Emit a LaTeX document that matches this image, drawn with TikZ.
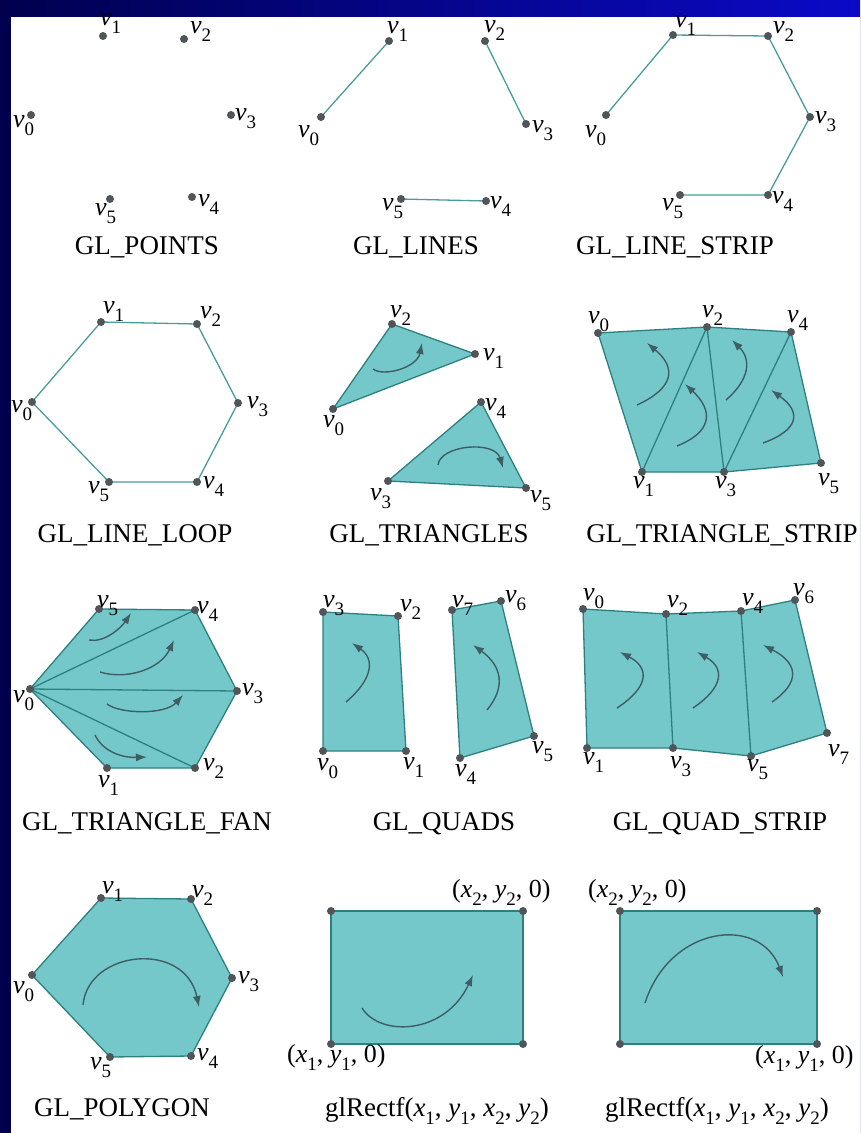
\documentclass[tikz,border=0pt]{standalone}
\usepackage{fontspec}
\setmainfont{Liberation Serif}
\usetikzlibrary{arrows.meta}
\definecolor{facec}{HTML}{74C8C9}
\definecolor{edgec}{HTML}{2E8080}
\definecolor{linec}{HTML}{4A9C9C}
\definecolor{dotc}{HTML}{505559}
\definecolor{arrc}{HTML}{3E5E64}
\definecolor{navyc}{HTML}{00004E}
\definecolor{bluec}{HTML}{0A0AC8}
\newcommand\subf{\fontsize{19}{19}\selectfont}
\newcommand\lowsub[1]{\raisebox{-8.5pt}{\subf #1}}
\newcommand\vv[1]{\textit{v}\lowsub{#1}}
\newcommand\ix[1]{\textit{x}\lowsub{#1}}
\newcommand\iy[1]{\textit{y}\lowsub{#1}}
\tikzset{
  dot/.style={circle,fill=dotc,inner sep=0pt,minimum size=8pt},
  seg/.style={draw=linec,line width=1.3pt},
  face/.style={fill=facec,draw=edgec,line width=1.3pt,line join=round},
  inner/.style={draw=edgec,line width=1.3pt},
  turn/.style={draw=arrc,line width=1.4pt,-{Latex[length=11pt,width=8pt]}},
  vlab/.style={anchor=base west,inner sep=0pt,font=\fontsize{26}{26}\selectfont},
  ttl/.style={anchor=base,inner sep=0pt,font=\fontsize{27}{27}\selectfont},
}
\begin{document}
\begin{tikzpicture}[x=1pt,y=-1pt]
\useasboundingbox (0,0) rectangle (860,1133);
\shade[left color=navyc,right color=bluec] (0,0) rectangle (860,1133);
\fill[white] (11,17) rectangle (860,1133);

% ---------- coordinates ----------
\coordinate (a0) at (31,115);  \coordinate (a1) at (103,36);  \coordinate (a2) at (184,39);
\coordinate (a3) at (231,115); \coordinate (a4) at (192,197);  \coordinate (a5) at (110,199);
\coordinate (b0) at (321,117); \coordinate (b1) at (389,41);  \coordinate (b2) at (485,41);
\coordinate (b3) at (526,124); \coordinate (b4) at (486,201);  \coordinate (b5) at (401,199);
\coordinate (c0) at (606,115); \coordinate (c1) at (673,35);  \coordinate (c2) at (768,36);
\coordinate (c3) at (810,117); \coordinate (c4) at (768,195);  \coordinate (c5) at (680,195);
\coordinate (d0) at (32,402);  \coordinate (d1) at (101,322); \coordinate (d2) at (197,324);
\coordinate (d3) at (238,403); \coordinate (d4) at (197,482);  \coordinate (d5) at (109,482);
\coordinate (e0) at (333,409); \coordinate (e1) at (475,354); \coordinate (e2) at (392,324);
\coordinate (e3) at (388,481); \coordinate (e4) at (481,402);  \coordinate (e5) at (526,488);
\coordinate (f0) at (598,333); \coordinate (f1) at (642,472); \coordinate (f2) at (707,327);
\coordinate (f3) at (724,472); \coordinate (f4) at (791,332);  \coordinate (f5) at (821,463);
\coordinate (g0) at (30,689);  \coordinate (g1) at (107,768); \coordinate (g2) at (195,768);
\coordinate (g3) at (237,691); \coordinate (g4) at (195,610);  \coordinate (g5) at (99,609);
\coordinate (h0) at (323,751); \coordinate (h1) at (406,751); \coordinate (h2) at (398,616);
\coordinate (h3) at (323,612); \coordinate (h4) at (460,758);  \coordinate (h5) at (534,736);
\coordinate (h6) at (501,601); \coordinate (h7) at (452,610);
\coordinate (i0) at (583,609); \coordinate (i1) at (587,748); \coordinate (i2) at (666,614);
\coordinate (i3) at (673,748); \coordinate (i4) at (741,611);  \coordinate (i5) at (751,756);
\coordinate (i6) at (795,600); \coordinate (i7) at (827,733);
\coordinate (j0) at (32,975);  \coordinate (j1) at (101,898); \coordinate (j2) at (191,899);
\coordinate (j3) at (232,978); \coordinate (j4) at (191,1056); \coordinate (j5) at (110,1057);
\coordinate (k0) at (331,1044); \coordinate (k1) at (523,1044); \coordinate (k2) at (523,911); \coordinate (k3) at (331,911);
\coordinate (l0) at (620,1044); \coordinate (l1) at (817,1044); \coordinate (l2) at (817,911); \coordinate (l3) at (620,911);

% ---------- lines ----------
\draw[seg] (b0) -- (b1) (b2) -- (b3) (b5) -- (b4);
\draw[seg] (c0) -- (c1) -- (c2) -- (c3) -- (c4) -- (c5);
\draw[seg] (d0) -- (d1) -- (d2) -- (d3) -- (d4) -- (d5) -- cycle;

% ---------- faces ----------
\filldraw[face] (e0) -- (e1) -- (e2) -- cycle;
\filldraw[face] (e3) -- (e4) -- (e5) -- cycle;
\filldraw[face] (f0) -- (f2) -- (f4) -- (f5) -- (f3) -- (f1) -- cycle;
\draw[inner] (f1) -- (f2) -- (f3) -- (f4);
\filldraw[face] (g0) -- (g5) -- (g4) -- (g3) -- (g2) -- (g1) -- cycle;
\draw[inner] (g0) -- (g4) (g0) -- (g3) (g0) -- (g2);
\filldraw[face] (h0) -- (h1) -- (h2) -- (h3) -- cycle;
\filldraw[face] (h4) -- (h5) -- (h6) -- (h7) -- cycle;
\filldraw[face] (i0) -- (i2) -- (i4) -- (i6) -- (i7) -- (i5) -- (i3) -- (i1) -- cycle;
\draw[inner] (i2) -- (i3) (i4) -- (i5);
\filldraw[face] (j0) -- (j1) -- (j2) -- (j3) -- (j4) -- (j5) -- cycle;
\filldraw[face] (k0) -- (k1) -- (k2) -- (k3) -- cycle;
\filldraw[face] (l0) -- (l1) -- (l2) -- (l3) -- cycle;

% ---------- turning arrows ----------
\draw[turn] (373,369) .. controls (383,377) and (417,368) .. (422,343);
\draw[turn] (438,465) .. controls (440,445) and (495,440) .. (503,468);
\draw[turn] (637,405) .. controls (674,388) and (677,368) .. (647,343);
\draw[turn] (677,446) .. controls (712,432) and (714,411) .. (685,384);
\draw[turn] (726,400) .. controls (749,380) and (752,360) .. (732,340);
\draw[turn] (763,443) .. controls (799,430) and (802,412) .. (771,390);
\draw[turn] (89,640) .. controls (104,643) and (121,628) .. (131,613);
\draw[turn] (100,672) .. controls (125,680) and (160,670) .. (174,640);
\draw[turn] (107,704) .. controls (120,714) and (165,715) .. (183,695);
\draw[turn] (95,735) .. controls (102,750) and (120,758) .. (147,757);
\draw[turn] (346,702) .. controls (373,679) and (375,659) .. (352,643);
\draw[turn] (487,710) .. controls (506,687) and (502,666) .. (473,645);
\draw[turn] (617,708) .. controls (649,687) and (650,668) .. (620,652);
\draw[turn] (693,708) .. controls (724,687) and (725,668) .. (697,652);
\draw[turn] (772,702) .. controls (801,682) and (798,663) .. (763,645);
\draw[turn] (83,1005) .. controls (88,950) and (185,940) .. (199,1007);
\draw[turn] (362,1008) .. controls (380,1037) and (445,1035) .. (473,975);
\draw[turn] (645,1003) .. controls (670,925) and (760,915) .. (783,977);

% ---------- dots ----------
\foreach \p in {a0,a1,a2,a3,a4,a5,b0,b1,b2,b3,b4,b5,c0,c1,c2,c3,c4,c5,
  d0,d1,d2,d3,d4,d5,e0,e1,e2,e3,e4,e5,f0,f1,f2,f3,f4,f5,g0,g1,g2,g3,g4,g5,
  h0,h1,h2,h3,h4,h5,h6,h7,i0,i1,i2,i3,i4,i5,i6,i7,j0,j1,j2,j3,j4,j5,
  k0,k1,k2,k3,l0,l1,l2,l3}
  \node[dot] (dot\p) at (\p) {};

% ---------- vertex labels ----------
\node[vlab] (la0) at (13,127) {\vv0};
\node[vlab] (la1) at (100,25) {\vv1};
\node[vlab] (la2) at (190,33) {\vv2};
\node[vlab] (la3) at (235,120) {\vv3};
\node[vlab] (la4) at (198,206) {\vv4};
\node[vlab] (la5) at (95,215) {\vv5};
\node[vlab] (lb0) at (298,137) {\vv0};
\node[vlab] (lb1) at (387,33) {\vv1};
\node[vlab] (lb2) at (484,32) {\vv2};
\node[vlab] (lb3) at (532,132) {\vv3};
\node[vlab] (lb4) at (490,208) {\vv4};
\node[vlab] (lb5) at (382,210) {\vv5};
\node[vlab] (lc0) at (585,137) {\vv0};
\node[vlab] (lc1) at (675,27) {\vv1};
\node[vlab] (lc2) at (773,33) {\vv2};
\node[vlab] (lc3) at (815,123) {\vv3};
\node[vlab] (lc4) at (772,203) {\vv4};
\node[vlab] (lc5) at (662,210) {\vv5};
\node[vlab] (ld0) at (11,412) {\vv0};
\node[vlab] (ld1) at (103,313) {\vv1};
\node[vlab] (ld2) at (200,318) {\vv2};
\node[vlab] (ld3) at (247,408) {\vv3};
\node[vlab] (ld4) at (203,488) {\vv4};
\node[vlab] (ld5) at (88,493) {\vv5};
\node[vlab] (le0) at (323,427) {\vv0};
\node[vlab] (le1) at (483,360) {\vv1};
\node[vlab] (le2) at (390,317) {\vv2};
\node[vlab] (le3) at (370,500) {\vv3};
\node[vlab] (le4) at (485,410) {\vv4};
\node[vlab] (le5) at (530,502) {\vv5};
\node[vlab] (lf0) at (588,323) {\vv0};
\node[vlab] (lf1) at (633,488) {\vv1};
\node[vlab] (lf2) at (702,317) {\vv2};
\node[vlab] (lf3) at (715,488) {\vv3};
\node[vlab] (lf4) at (787,322) {\vv4};
\node[vlab] (lf5) at (818,485) {\vv5};
\node[vlab] (lg0) at (13,702) {\vv0};
\node[vlab] (lg1) at (98,787) {\vv1};
\node[vlab] (lg2) at (203,770) {\vv2};
\node[vlab] (lg3) at (242,695) {\vv3};
\node[vlab] (lg4) at (197,613) {\vv4};
\node[vlab] (lg5) at (97,607) {\vv5};
\node[vlab] (lh0) at (317,770) {\vv0};
\node[vlab] (lh1) at (403,769) {\vv1};
\node[vlab] (lh2) at (400,611) {\vv2};
\node[vlab] (lh3) at (323,607) {\vv3};
\node[vlab] (lh4) at (455,776) {\vv4};
\node[vlab] (lh5) at (532,753) {\vv5};
\node[vlab] (lh6) at (505,602) {\vv6};
\node[vlab] (lh7) at (452,607) {\vv7};
\node[vlab] (li0) at (583,600) {\vv0};
\node[vlab] (li1) at (583,764) {\vv1};
\node[vlab] (li2) at (667,607) {\vv2};
\node[vlab] (li3) at (670,768) {\vv3};
\node[vlab] (li4) at (742,605) {\vv4};
\node[vlab] (li5) at (747,771) {\vv5};
\node[vlab] (li6) at (793,595) {\vv6};
\node[vlab] (li7) at (828,756) {\vv7};
\node[vlab] (lj0) at (13,993) {\vv0};
\node[vlab] (lj1) at (102,893) {\vv1};
\node[vlab] (lj2) at (192,897) {\vv2};
\node[vlab] (lj3) at (238,983) {\vv3};
\node[vlab] (lj4) at (197,1060) {\vv4};
\node[vlab] (lj5) at (90,1069) {\vv5};
\node[vlab] (lk2) at (452,897) {(\ix2, \iy2, 0)};
\node[vlab] (lk0) at (287,1062) {(\ix1, \iy1, 0)};
\node[vlab] (ll3) at (588,897) {(\ix2, \iy2, 0)};
\node[vlab] (ll1) at (755,1063) {(\ix1, \iy1, 0)};

% ---------- titles ----------
\node[ttl] (t1) at (147,254) {GL\_POINTS};
\node[ttl] (t2) at (416,254) {GL\_LINES};
\node[ttl] (t3) at (675,254) {GL\_LINE\_STRIP};
\node[ttl] (t4) at (135,542) {GL\_LINE\_LOOP};
\node[ttl] (t5) at (429,542) {GL\_TRIANGLES};
\node[ttl] (t6) at (722,542) {GL\_TRIANGLE\_STRIP};
\node[ttl] (t7) at (147,830) {GL\_TRIANGLE\_FAN};
\node[ttl] (t8) at (444,830) {GL\_QUADS};
\node[ttl] (t9) at (720,830) {GL\_QUAD\_STRIP};
\node[ttl] (t10) at (122,1116) {GL\_POLYGON};
\node[ttl] (t11) at (437,1116) {glRectf(\ix1, \iy1, \ix2, \iy2)};
\node[ttl] (t12) at (717,1116) {glRectf(\ix1, \iy1, \ix2, \iy2)};
\end{tikzpicture}
\end{document}
